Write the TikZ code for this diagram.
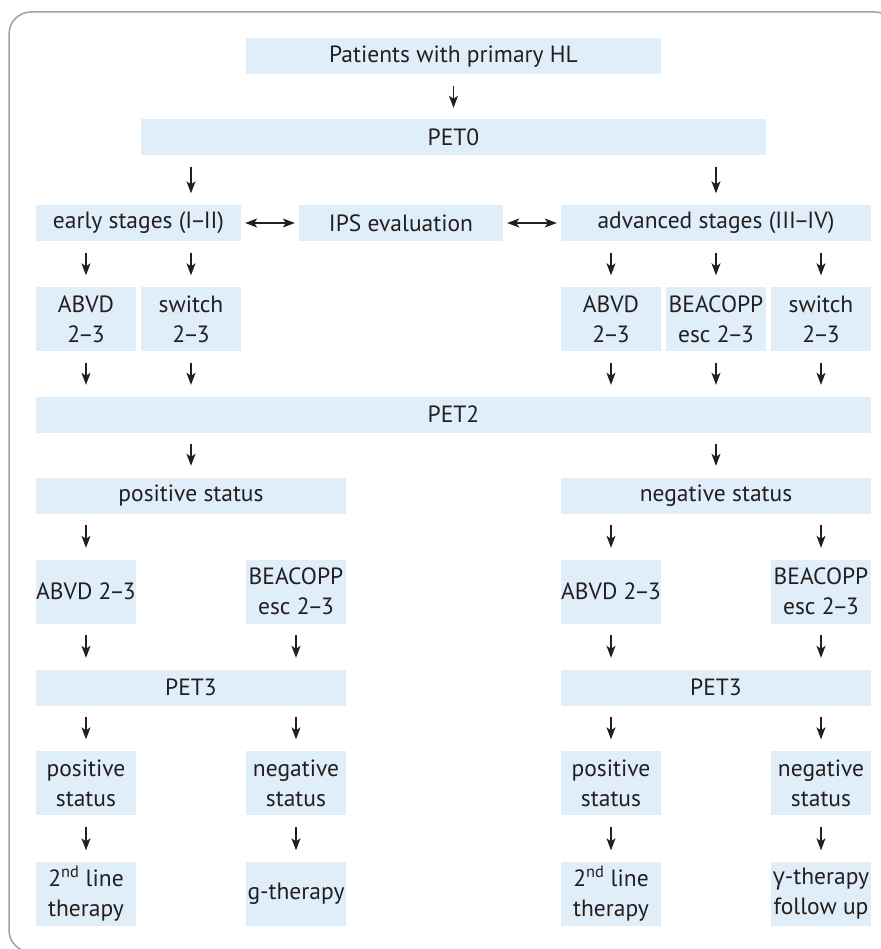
\documentclass[tikz,border=0pt]{standalone}
\usepackage{fontspec}
\setmainfont{PT Sans}
\newfontfamily\grfont{Open Sans}
\usetikzlibrary{arrows.meta}
\definecolor{petblue}{HTML}{E0EEFA}
\definecolor{pettext}{HTML}{231F20}
\definecolor{petframe}{HTML}{A0A0A0}
\newcommand\rngdash{\kern-2pt–\kern-2pt}
\begin{document}
\begin{tikzpicture}[x=1pt,y=-1pt,
    box/.style={fill=petblue,text=pettext,inner sep=0pt,minimum height=36pt,align=center,font=\fontsize{23.5}{30}\selectfont},
    tall/.style={box,minimum height=64pt,minimum width=100pt},
    arr/.style={-{Stealth[length=12pt,width=9pt,inset=3pt]},line width=1.2pt,draw=pettext,shorten <=11.5pt,shorten >=11.5pt},
    dbl/.style={{Stealth[length=12pt,width=9pt,inset=3pt]}-{Stealth[length=12pt,width=9pt,inset=3pt]},line width=1.2pt,draw=pettext,shorten <=4pt,shorten >=4pt}]
    \useasboundingbox(0,0)rectangle(880,949);
    \draw[petframe,line width=1.5pt,rounded corners=22pt](9,12)rectangle(897,952);
    \node[box,minimum width=415pt](pat)at(453.5,56.5){Patients with primary HL};
    \node[box,minimum width=625pt](pet0)at(453.5,137.5){PET0};
    \node[box,minimum width=205pt](early)at(138.5,223){early stages (I\rngdash II)};
    \node[box,minimum width=204pt](ips)at(401,223){IPS evaluation};
    \node[box,minimum width=310pt](adv)at(716,223){advanced stages (III\rngdash IV)};
    \node[tall](abvdE)at(86,319){ABVD\\2\rngdash 3};\node[tall](swE)at(191,319){switch\\2\rngdash 3};
    \node[tall](abvdA)at(611,319){ABVD\\2\rngdash 3};\node[tall](beaA)at(716,319){BEACOPP\\esc 2\rngdash 3};\node[tall](swA)at(821,319){switch\\2\rngdash 3};
    \node[box,minimum width=835pt](pet2)at(453.5,414.5){PET2};
    \node[box,minimum width=310pt](posL)at(191,495.5){positive status};
    \node[box,minimum width=310pt](negR)at(716,495.5){negative status};
    \node[tall](abvdL)at(86,591.5){ABVD 2\rngdash 3};\node[tall](beaL)at(296,591.5){BEACOPP\\esc 2\rngdash 3};
    \node[tall](abvdR)at(611,591.5){ABVD 2\rngdash 3};\node[tall](beaR)at(821,591.5){BEACOPP\\esc 2\rngdash 3};
    \node[box,minimum width=310pt](pet3L)at(191,687.5){PET3};
    \node[box,minimum width=310pt](pet3R)at(716,687.5){PET3};
    \node[tall](posLL)at(86,783){positive\\status};\node[tall](negLL)at(296,783){negative\\status};
    \node[tall](posRR)at(611,783){positive\\status};\node[tall](negRR)at(821,783){negative\\status};
    \node[tall](thL)at(86,894){2\textsuperscript{nd} line\\therapy};\node[tall](gL)at(296,894){g-therapy};
    \node[tall](thR)at(611,894){2\textsuperscript{nd} line\\therapy};\node[tall](gR)at(821,894){{\grfont γ}-therapy\\follow up};
    \draw[arr](pat)--(pet0);
    \draw[arr](pet0.south-|swE)--(early.north-|swE);\draw[arr](pet0.south-|beaA)--(adv.north-|beaA);
    \draw[dbl](early)--(ips);\draw[dbl](ips)--(adv);
    \foreach \n in {abvdE,swE}\draw[arr](early.south-|\n)--(\n);
    \foreach \n in {abvdA,beaA,swA}\draw[arr](adv.south-|\n)--(\n);
    \foreach \n in {abvdE,swE,abvdA,beaA,swA}\draw[arr](\n)--(pet2.north-|\n);
    \draw[arr](pet2.south-|posL)--(posL);\draw[arr](pet2.south-|negR)--(negR);
    \draw[arr](posL.south-|abvdL)--(abvdL);
    \foreach \n in {abvdR,beaR}\draw[arr](negR.south-|\n)--(\n);
    \foreach \n in {abvdL,beaL}\draw[arr](\n)--(pet3L.north-|\n);
    \foreach \n in {abvdR,beaR}\draw[arr](\n)--(pet3R.north-|\n);
    \foreach \n in {posLL,negLL}\draw[arr](pet3L.south-|\n)--(\n);
    \foreach \n in {posRR,negRR}\draw[arr](pet3R.south-|\n)--(\n);
    \foreach \a/\b in {posLL/thL,negLL/gL,posRR/thR,negRR/gR}\draw[arr](\a)--(\b);
\end{tikzpicture}
\end{document}
